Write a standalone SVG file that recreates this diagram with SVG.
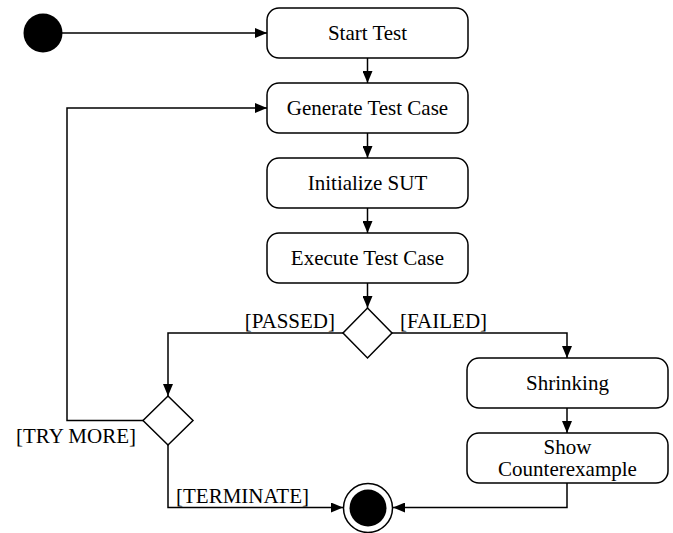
<svg xmlns="http://www.w3.org/2000/svg" width="673" height="533" viewBox="0 0 673 533">
<style>
.box{fill:#fff;stroke:#000;stroke-width:1.5}
.dia{fill:#fff;stroke:#000;stroke-width:1.5}
.ln{fill:none;stroke:#000;stroke-width:1.5}
text{font-family:"Liberation Serif","Times New Roman",serif;font-size:21px;fill:#000}
.c{text-anchor:middle}
</style>
<defs>
<marker id="ah" viewBox="0 0 12 10" refX="12" refY="5" markerWidth="12" markerHeight="10" markerUnits="userSpaceOnUse" orient="auto">
<path d="M0,0 L12,5 L0,10 Z" fill="#000"/>
</marker>
</defs>
<g id="connectors">
<path class="ln" d="M62,33 H267" marker-end="url(#ah)"/>
<path class="ln" d="M367.5,58 V83" marker-end="url(#ah)"/>
<path class="ln" d="M367.5,133 V158" marker-end="url(#ah)"/>
<path class="ln" d="M367.5,208 V233" marker-end="url(#ah)"/>
<path class="ln" d="M367.5,283 V308" marker-end="url(#ah)"/>
<path class="ln" d="M343,333 H168 V396" marker-end="url(#ah)"/>
<path class="ln" d="M392,333 H567 V358" marker-end="url(#ah)"/>
<path class="ln" d="M567,408 V433" marker-end="url(#ah)"/>
<path class="ln" d="M143,420.5 H67 V108 H267" marker-end="url(#ah)"/>
<path class="ln" d="M168,445 V507.5 H343" marker-end="url(#ah)"/>
<path class="ln" d="M567,483 V507.5 H393" marker-end="url(#ah)"/>
<text x="335" y="328" text-anchor="end">[PASSED]</text>
<text x="400" y="328">[FAILED]</text>
<text x="136" y="443" text-anchor="end">[TRY MORE]</text>
<text x="176" y="503">[TERMINATE]</text>
</g>
<g id="start"><circle cx="43" cy="33" r="19.5" fill="#000"/></g>
<g id="startTest"><rect class="box" x="267" y="8" width="201" height="50" rx="12"/><text class="c" x="367.5" y="40">Start Test</text></g>
<g id="generate"><rect class="box" x="267" y="83" width="201" height="50" rx="12"/><text class="c" x="367.5" y="115">Generate Test Case</text></g>
<g id="init"><rect class="box" x="267" y="158" width="201" height="50" rx="12"/><text class="c" x="367.5" y="190">Initialize SUT</text></g>
<g id="execute"><rect class="box" x="267" y="233" width="201" height="50" rx="12"/><text class="c" x="367.5" y="265">Execute Test Case</text></g>
<g id="decision1"><path class="dia" d="M367.5,308 L392,333 L367.5,358 L343,333 Z"/></g>
<g id="decision2"><path class="dia" d="M168,396 L193,420.5 L168,445 L143,420.5 Z"/></g>
<g id="shrinking"><rect class="box" x="467" y="358" width="201" height="50" rx="12"/><text class="c" x="567.5" y="390">Shrinking</text></g>
<g id="show"><rect class="box" x="467" y="433" width="201" height="50" rx="12"/><text class="c" x="567.5" y="454">Show</text><text class="c" x="567.5" y="476">Counterexample</text></g>
<g id="final"><circle cx="368" cy="508" r="24.5" fill="#fff" stroke="#000" stroke-width="1.5"/><circle cx="368" cy="508" r="18.5" fill="#000"/></g>
</svg>
